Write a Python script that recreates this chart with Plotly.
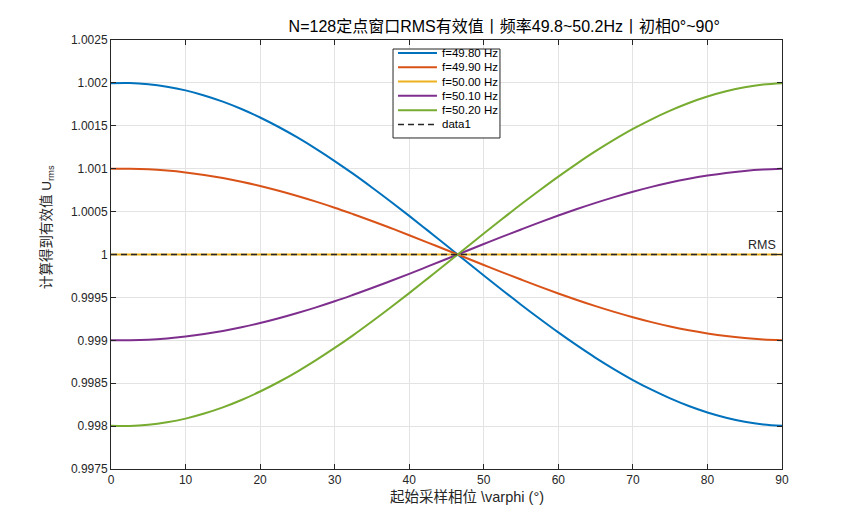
import plotly.graph_objects as go

phi = [0, 2.5, 5, 7.5, 10, 12.5, 15, 17.5, 20, 22.5, 25, 27.5, 30, 32.5, 35, 37.5, 40, 42.5, 45,
       47.5, 50, 52.5, 55, 57.5, 60, 62.5, 65, 67.5, 70, 72.5, 75, 77.5, 80, 82.5, 85, 87.5, 90]

u_4980 = [1.001997, 1.001999, 1.001985, 1.001956, 1.001913, 1.001854, 1.001782, 1.001696, 1.001597,
          1.001486, 1.001364, 1.001231, 1.001089, 1.000939, 1.000781, 1.000618, 1.000450, 1.000278,
          1.000105, 0.999930, 0.999756, 0.999584, 0.999415, 0.999251, 0.999092, 0.998940, 0.998796,
          0.998662, 0.998537, 0.998424, 0.998323, 0.998234, 0.998159, 0.998098, 0.998051, 0.998019,
          0.998003]
u_4990 = [1.000999, 1.000999, 1.000993, 1.000978, 1.000956, 1.000927, 1.000891, 1.000848, 1.000799,
          1.000743, 1.000682, 1.000616, 1.000545, 1.000469, 1.000391, 1.000309, 1.000225, 1.000139,
          1.000052, 0.999965, 0.999878, 0.999792, 0.999708, 0.999625, 0.999546, 0.999470, 0.999398,
          0.999331, 0.999269, 0.999212, 0.999161, 0.999117, 0.999080, 0.999049, 0.999026, 0.999010,
          0.999001]
u_5000 = [1.0] * len(phi)
u_5010 = [0.999001, 0.999001, 0.999007, 0.999022, 0.999044, 0.999073, 0.999109, 0.999152, 0.999201,
          0.999257, 0.999318, 0.999384, 0.999455, 0.999531, 0.999609, 0.999691, 0.999775, 0.999861,
          0.999948, 1.000035, 1.000122, 1.000208, 1.000292, 1.000375, 1.000454, 1.000530, 1.000602,
          1.000669, 1.000731, 1.000788, 1.000839, 1.000883, 1.000920, 1.000951, 1.000974, 1.000990,
          1.000999]
u_5020 = [0.998003, 0.998001, 0.998015, 0.998044, 0.998087, 0.998146, 0.998218, 0.998304, 0.998403,
          0.998514, 0.998636, 0.998769, 0.998911, 0.999061, 0.999219, 0.999382, 0.999550, 0.999722,
          0.999895, 1.000070, 1.000244, 1.000416, 1.000585, 1.000749, 1.000908, 1.001060, 1.001204,
          1.001338, 1.001463, 1.001576, 1.001677, 1.001766, 1.001841, 1.001902, 1.001949, 1.001981,
          1.001997]

names = ["f=49.80 Hz", "f=49.90 Hz", "f=50.00 Hz", "f=50.10 Hz", "f=50.20 Hz"]
series = [u_4980, u_4990, u_5000, u_5010, u_5020]
colors = ["#0072BD", "#D95319", "#EDB120", "#7E2F8E", "#77AC30"]
ref_name = "data1"

x_ticks = [0, 10, 20, 30, 40, 50, 60, 70, 80, 90]
y_ticks = [0.9975, 0.998, 0.9985, 0.999, 0.9995, 1.0, 1.0005, 1.001, 1.0015, 1.002, 1.0025]
y_ticklabels = ["0.9975", "0.998", "0.9985", "0.999", "0.9995", "1", "1.0005", "1.001", "1.0015", "1.002", "1.0025"]

rms_level = 1.0

FONT = "Liberation Sans, Arial, Noto Sans CJK SC, sans-serif"
AX = "#262626"
DASH = "6px,4px"

fig = go.Figure()
for name, ys, c in zip(names, series, colors):
    fig.add_trace(go.Scatter(x=phi, y=ys, mode="lines", name=name, showlegend=False,
                             line=dict(color=c, width=2, shape="spline", smoothing=1.0)))
fig.add_trace(go.Scatter(x=[phi[0], phi[-1]], y=[rms_level, rms_level], mode="lines", name=ref_name,
                         showlegend=False, line=dict(color=AX, width=1.5, dash=DASH)))

fig.add_annotation(x=phi[-1], y=rms_level, text="RMS", showarrow=False, xref="x", yref="y",
                   xanchor="right", yanchor="bottom", xshift=-4, yshift=1,
                   font=dict(family=FONT, size=12.5, color=AX))

# Custom legend (layout only, paper coordinates)
box_x0, box_x1, box_y0, box_y1 = 0.4203, 0.5797, 0.7716, 0.979
fig.add_shape(type="rect", xref="paper", yref="paper", x0=box_x0, x1=box_x1, y0=box_y0, y1=box_y1,
              line=dict(color=AX, width=1), fillcolor="white", layer="above")
row_top = 0.9697
row_step = 0.0333
sw_x0, sw_x1, txt_x = 0.4277, 0.4858, 0.4903
legend_names = names + [ref_name]
legend_colors = colors + [AX]
for i, (nm, c) in enumerate(zip(legend_names, legend_colors)):
    yy = row_top - i * row_step
    is_ref = (nm == ref_name)
    fig.add_shape(type="line", xref="paper", yref="paper", x0=sw_x0, x1=sw_x1, y0=yy, y1=yy,
                  line=dict(color=c, width=1.5 if is_ref else 2, dash=DASH if is_ref else "solid"),
                  layer="above")
    fig.add_annotation(x=txt_x, y=yy, xref="paper", yref="paper", text=nm, showarrow=False,
                       xanchor="left", yanchor="middle", font=dict(family=FONT, size=11.5, color="black"))

# Axis labels
fig.add_annotation(x=0.5306, y=-0.0653, xref="paper", yref="paper", text="起始采样相位 \\varphi (°)",
                   showarrow=False, xanchor="center", yanchor="middle",
                   font=dict(family=FONT, size=14.5, color=AX))
fig.add_annotation(x=-0.0954, y=0.564, xref="paper", yref="paper", text="计算得到有效值 U<sub>rms</sub>",
                   showarrow=False, xanchor="center", yanchor="middle", textangle=-90,
                   font=dict(family=FONT, size=13.5, color=AX))

axis_common = dict(showline=True, linecolor=AX, linewidth=1, mirror="ticks",
                   ticks="inside", ticklen=5, tickcolor=AX,
                   showgrid=True, gridcolor="#e3e3e3", gridwidth=1,
                   zeroline=False, tickfont=dict(family=FONT, size=12, color=AX))

fig.update_xaxes(range=[0, 90], tickvals=x_ticks, **axis_common)
fig.update_yaxes(range=[0.9975, 1.0025], tickvals=y_ticks, ticktext=y_ticklabels, **axis_common)

fig.update_layout(
    width=865, height=528,
    margin=dict(l=103, r=91, t=32, b=67),
    paper_bgcolor="white", plot_bgcolor="white",
    title=dict(text="N=128定点窗口RMS有效值丨频率49.8~50.2Hz丨初相0°~90°",
               x=0.586, xref="paper", xanchor="center", y=0.966, yref="container", yanchor="middle",
               font=dict(family=FONT, size=16, color="black")),
    showlegend=False,
)

fig.write_html("out.html")
